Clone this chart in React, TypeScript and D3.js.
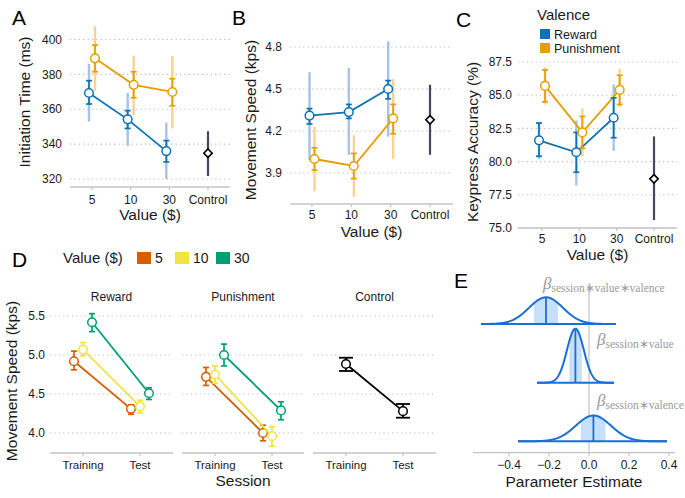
import React from "react";
import * as d3 from "d3";

// ---------- DATA ----------
const valueCats = ["5", "10", "30"];
const allCats = ["5", "10", "30", "Control"];

// Panel A: Initiation Time (ms)
const initRewardMean = [369.3, 354.2, 336.0];
const initRewardSeLo = [363.0, 349.0, 329.8];
const initRewardSeHi = [376.4, 359.2, 342.0];
const initRewardCiLo = [352.9, 339.0, 320.0];
const initRewardCiHi = [386.0, 369.3, 352.3];
const initPunishMean = [389.2, 374.0, 369.9];
const initPunishSeLo = [381.5, 366.6, 362.0];
const initPunishSeHi = [396.8, 381.5, 377.5];
const initPunishCiLo = [370.6, 356.7, 349.0];
const initPunishCiHi = [407.7, 390.7, 390.5];
const initControl = [334.8, 321.7, 347.4]; // mean, lo, hi
const initTicks = [320, 340, 360, 380, 400];

// Panel B: Movement Speed (kps)
const speedRewardMean = [4.31, 4.335, 4.5];
const speedRewardSeLo = [4.25, 4.29, 4.43];
const speedRewardSeHi = [4.36, 4.39, 4.56];
const speedRewardCiLo = [3.99, 4.03, 4.16];
const speedRewardCiHi = [4.62, 4.65, 4.84];
const speedPunishMean = [4.0, 3.95, 4.29];
const speedPunishSeLo = [3.92, 3.86, 4.18];
const speedPunishSeHi = [4.08, 4.04, 4.39];
const speedPunishCiLo = [3.77, 3.73, 4.0];
const speedPunishCiHi = [4.23, 4.17, 4.57];
const speedControl = [4.28, 4.03, 4.53];
const speedTicks = [3.9, 4.2, 4.5, 4.8];

// Panel C: Keypress Accuracy (%)
const accRewardMean = [81.6, 80.7, 83.3];
const accRewardSeLo = [80.4, 79.2, 81.8];
const accRewardSeHi = [82.9, 82.2, 84.8];
const accRewardCiLo = [80.2, 78.2, 80.8];
const accRewardCiHi = [83.0, 83.1, 85.8];
const accPunishMean = [85.7, 82.2, 85.4];
const accPunishSeLo = [84.5, 81.0, 84.3];
const accPunishSeHi = [86.9, 83.4, 86.5];
const accPunishCiLo = [84.3, 80.4, 84.1];
const accPunishCiHi = [87.1, 84.0, 87.0];
const accControl = [78.7, 75.6, 81.9];
const accTicks = [75, 77.5, 80, 82.5, 85, 87.5];

// Panel D: Movement speed by session
const sessions = ["Training", "Test"];
const dTicks = [4.0, 4.5, 5.0, 5.5];
const dRewardTrainMean = [4.92, 5.07, 5.42];
const dRewardTrainLo = [4.81, 4.99, 5.3];
const dRewardTrainHi = [5.05, 5.16, 5.53];
const dRewardTestMean = [4.31, 4.34, 4.51];
const dRewardTestLo = [4.24, 4.26, 4.43];
const dRewardTestHi = [4.36, 4.42, 4.58];
const dPunishTrainMean = [4.72, 4.75, 5.0];
const dPunishTrainLo = [4.61, 4.64, 4.86];
const dPunishTrainHi = [4.84, 4.86, 5.14];
const dPunishTestMean = [4.0, 3.96, 4.29];
const dPunishTestLo = [3.9, 3.83, 4.17];
const dPunishTestHi = [4.1, 4.08, 4.4];
const dControlMean = [4.885, 4.28];
const dControlLo = [4.795, 4.196];
const dControlHi = [4.965, 4.372];

// Panel E: posterior densities
const paramNames = ["session\u2217value\u2217valence", "session\u2217value", "session\u2217valence"];
const paramMean = [-0.215, -0.068, 0.022];
const paramSd = [0.085, 0.042, 0.088];
const paramLo50 = [-0.275, -0.098, -0.04];
const paramHi50 = [-0.155, -0.036, 0.083];
const paramMin = [-0.54, -0.26, -0.355];
const paramMax = [0.135, 0.125, 0.39];
const eTicks = [-0.4, -0.2, 0.0, 0.2, 0.4];

// ---------- STYLE ----------
const FONT = "'Liberation Sans', Arial, Helvetica, sans-serif";
const SERIF = "'Liberation Serif', 'Times New Roman', serif";
const REWARD = "#0b72b5";
const PUNISH = "#e69f00";
const REWARD_CI = "#a6c2e6";
const PUNISH_CI = "#f6d294";
const CTRL = "#4b4660";
const GRID = "#b8b8b8";
const AXIS = "#c4c4c4";
const TXT = "#1a1a1a";
const VAL_COLORS = ["#d55e00", "#f0e442", "#009e73"];
const E_BLUE = "#1a6fd4";
const E_FILL = "#c6e0fb";
const TITLE_SIZE = 15.5;

function VBar({ x, y1, y2, color, w = 1.6, cap = 0, opacity = 1 }) {
  return (
    <g stroke={color} strokeWidth={w} opacity={opacity}>
      <line x1={x} x2={x} y1={y1} y2={y2} />
      {cap > 0 && <line x1={x - cap} x2={x + cap} y1={y1} y2={y1} />}
      {cap > 0 && <line x1={x - cap} x2={x + cap} y1={y2} y2={y2} />}
    </g>
  );
}

function ValencePanel(p) {
  const y = d3.scaleLinear().domain(p.yDomain).range(p.yRange);
  const x = d3.scalePoint().domain(allCats).range(p.xRange);
  const fmt = d3.format(p.fmt);
  const series = [
    { mean: p.rMean, seLo: p.rSeLo, seHi: p.rSeHi, ciLo: p.rCiLo, ciHi: p.rCiHi, c: REWARD, ci: REWARD_CI, d: -p.dodge },
    { mean: p.pMean, seLo: p.pSeLo, seHi: p.pSeHi, ciLo: p.pCiLo, ciHi: p.pCiHi, c: PUNISH, ci: PUNISH_CI, d: p.dodge },
  ];
  const line = d3.line().x((d) => d[0]).y((d) => d[1]);
  const cx = x("Control");
  return (
    <g fontFamily={FONT}>
      {p.ticks.map((t) => (
        <g key={t}>
          <line x1={p.plotX0} x2={p.plotX1} y1={y(t)} y2={y(t)} stroke={GRID} strokeWidth={1.1} strokeDasharray="1.2,3.2" />
          <text x={p.labelRight} y={y(t)} dy="0.35em" textAnchor="end" fontSize={12} fill={TXT}>{fmt(t)}</text>
        </g>
      ))}
      <line x1={p.plotX0} x2={p.plotX1} y1={p.axisY} y2={p.axisY} stroke={AXIS} strokeWidth={1.3} />
      {allCats.map((c) => (
        <g key={c}>
          <line x1={x(c)} x2={x(c)} y1={p.axisY} y2={p.axisY + 3} stroke={AXIS} strokeWidth={1.2} />
          <text x={x(c)} y={p.tickBase} textAnchor="middle" fontSize={12} fill={TXT}>{c}</text>
        </g>
      ))}
      <text x={(p.plotX0 + p.plotX1) / 2} y={p.titleBase} textAnchor="middle" fontSize={TITLE_SIZE} fill={TXT}>Value ($)</text>
      <text transform={`translate(${p.yTitleX},${p.yTitleY}) rotate(-90)`} textAnchor="middle" fontSize={TITLE_SIZE} fill={TXT}>{p.yTitle}</text>
      {series.map((s, si) =>
        valueCats.map((c, i) => (
          <VBar key={si + c} x={x(c) + s.d} y1={y(s.ciLo[i])} y2={y(s.ciHi[i])} color={s.ci} w={2.4} />
        ))
      )}
      <VBar x={cx} y1={y(p.ctrl[1])} y2={y(p.ctrl[2])} color={CTRL} w={2.2} />
      {series.map((s, si) => (
        <path key={si} d={line(valueCats.map((c, i) => [x(c) + s.d, y(s.mean[i])]))} fill="none" stroke={s.c} strokeWidth={1.8} />
      ))}
      {series.map((s, si) =>
        valueCats.map((c, i) => (
          <VBar key={si + c} x={x(c) + s.d} y1={y(s.seLo[i])} y2={y(s.seHi[i])} color={s.c} w={1.7} cap={3} />
        ))
      )}
      {series.map((s, si) =>
        valueCats.map((c, i) => (
          <circle key={si + c} cx={x(c) + s.d} cy={y(s.mean[i])} r={4.3} fill="white" stroke={s.c} strokeWidth={1.5} />
        ))
      )}
      <path
        d={`M${cx},${y(p.ctrl[0]) - 4.2}L${cx + 4.2},${y(p.ctrl[0])}L${cx},${y(p.ctrl[0]) + 4.2}L${cx - 4.2},${y(p.ctrl[0])}Z`}
        fill="white"
        stroke="black"
        strokeWidth={1.6}
      />
    </g>
  );
}

function PanelD() {
  const y = d3.scaleLinear().domain([4.0, 5.5]).range([433, 316]);
  const axisY = 453;
  const facets = [
    { name: "Reward", x0: 50, x1: 173, tr: dRewardTrainMean, trLo: dRewardTrainLo, trHi: dRewardTrainHi, te: dRewardTestMean, teLo: dRewardTestLo, teHi: dRewardTestHi },
    { name: "Punishment", x0: 182, x1: 304, tr: dPunishTrainMean, trLo: dPunishTrainLo, trHi: dPunishTrainHi, te: dPunishTestMean, teLo: dPunishTestLo, teHi: dPunishTestHi },
    { name: "Control", x0: 313, x1: 436 },
  ];
  const dodge = [-9, 0, 9];
  const fmt = d3.format(".1f");
  return (
    <g fontFamily={FONT}>
      {dTicks.map((t) => (
        <text key={t} x={45} y={y(t)} dy="0.35em" textAnchor="end" fontSize={12} fill={TXT}>{fmt(t)}</text>
      ))}
      <text transform={`translate(17,381) rotate(-90)`} textAnchor="middle" fontSize={TITLE_SIZE} fill={TXT}>Movement Speed (kps)</text>
      <text x={243} y={486} textAnchor="middle" fontSize={TITLE_SIZE} fill={TXT}>Session</text>
      {facets.map((f) => {
        const x = d3.scalePoint().domain(sessions).range([f.x0 + 33, f.x0 + 90]);
        return (
          <g key={f.name}>
            <text x={(f.x0 + f.x1) / 2} y={301} textAnchor="middle" fontSize={12} fill={TXT}>{f.name}</text>
            {dTicks.map((t) => (
              <line key={t} x1={f.x0} x2={f.x1} y1={y(t)} y2={y(t)} stroke={GRID} strokeWidth={1.1} strokeDasharray="1.2,3.2" />
            ))}
            <line x1={f.x0} x2={f.x1} y1={axisY} y2={axisY} stroke={AXIS} strokeWidth={1.3} />
            {sessions.map((s) => (
              <g key={s}>
                <line x1={x(s)} x2={x(s)} y1={axisY} y2={axisY + 3} stroke={AXIS} strokeWidth={1.2} />
                <text x={x(s)} y={469} textAnchor="middle" fontSize={11.5} fill={TXT}>{s}</text>
              </g>
            ))}
            {f.tr &&
              valueCats.map((v, i) => {
                const c = VAL_COLORS[i];
                const xa = x("Training") + dodge[i];
                const xb = x("Test") + dodge[i];
                return (
                  <g key={v}>
                    <line x1={xa} y1={y(f.tr[i])} x2={xb} y2={y(f.te[i])} stroke={c} strokeWidth={1.8} />
                    <VBar x={xa} y1={y(f.trLo[i])} y2={y(f.trHi[i])} color={c} w={1.7} cap={3} />
                    <VBar x={xb} y1={y(f.teLo[i])} y2={y(f.teHi[i])} color={c} w={1.7} cap={3} />
                    <circle cx={xa} cy={y(f.tr[i])} r={4.3} fill="white" stroke={c} strokeWidth={1.5} />
                    <circle cx={xb} cy={y(f.te[i])} r={4.3} fill="white" stroke={c} strokeWidth={1.5} />
                  </g>
                );
              })}
            {!f.tr && (
              <g>
                <line x1={x("Training")} y1={y(dControlMean[0])} x2={x("Test")} y2={y(dControlMean[1])} stroke="black" strokeWidth={1.8} />
                {sessions.map((s, i) => (
                  <g key={s}>
                    <VBar x={x(s)} y1={y(dControlLo[i])} y2={y(dControlHi[i])} color="black" w={1.8} cap={7} />
                    <circle cx={x(s)} cy={y(dControlMean[i])} r={4.3} fill="white" stroke="black" strokeWidth={1.5} />
                  </g>
                ))}
              </g>
            )}
          </g>
        );
      })}
      <text x={63} y={263} fontSize={15} fill={TXT}>Value ($)</text>
      {valueCats.map((v, i) => {
        const lx = [137, 175, 216][i];
        return (
          <g key={v}>
            <rect x={lx} y={252} width={14} height={12} fill={VAL_COLORS[i]} />
            <text x={lx + 18} y={263} fontSize={14} fill={TXT}>{v}</text>
          </g>
        );
      })}
    </g>
  );
}

function PanelE() {
  const x = d3.scaleLinear().domain([-0.4, 0.4]).range([509, 669]);
  const baselines = [324, 382.7, 441.3];
  const pxPerDensity = 5.69;
  const axisY = 452.7;
  const labelPos = [
    [543, 289],
    [597, 345],
    [597, 406],
  ];
  const dens = (m, s, v) => Math.exp(-0.5 * ((v - m) / s) ** 2) / (s * Math.sqrt(2 * Math.PI));
  return (
    <g fontFamily={FONT}>
      <line x1={x(0)} x2={x(0)} y1={283} y2={axisY} stroke="#d0d0d0" strokeWidth={1.6} />
      {paramNames.map((n, k) => {
        const b = baselines[k];
        const m = paramMean[k];
        const s = paramSd[k];
        const xs = d3.range(0, 201).map((i) => paramMin[k] + ((paramMax[k] - paramMin[k]) * i) / 200);
        const xsShade = d3.range(0, 41).map((i) => paramLo50[k] + ((paramHi50[k] - paramLo50[k]) * i) / 40);
        const area = d3
          .area()
          .x((v) => x(v))
          .y0(b)
          .y1((v) => b - pxPerDensity * dens(m, s, v));
        const line = d3
          .line()
          .x((v) => x(v))
          .y((v) => b - pxPerDensity * dens(m, s, v));
        return (
          <g key={n}>
            <path d={area(xsShade)} fill={E_FILL} />
            <path d={line(xs)} fill="none" stroke={E_BLUE} strokeWidth={2} />
            <line x1={x(paramMin[k])} x2={x(paramMax[k])} y1={b} y2={b} stroke={E_BLUE} strokeWidth={2} />
            <line x1={x(m)} x2={x(m)} y1={b} y2={b - pxPerDensity * dens(m, s, m)} stroke={E_BLUE} strokeWidth={1.8} />
            <text x={labelPos[k][0]} y={labelPos[k][1]} fill="#9a9a9a" fontFamily={SERIF}>
              <tspan fontStyle="italic" fontSize={17}>β</tspan>
              <tspan fontSize={11.5} dy={3}>{n}</tspan>
            </text>
          </g>
        );
      })}
      <line x1={473} x2={675} y1={axisY} y2={axisY} stroke={AXIS} strokeWidth={1.3} />
      {eTicks.map((t) => (
        <g key={t}>
          <line x1={x(t)} x2={x(t)} y1={axisY} y2={axisY + 3} stroke={AXIS} strokeWidth={1.2} />
          <text x={x(t)} y={469} textAnchor="middle" fontSize={12} fill={TXT}>{d3.format(".1f")(t).replace("-", "\u2212")}</text>
        </g>
      ))}
      <text x={574} y={487} textAnchor="middle" fontSize={TITLE_SIZE} fill={TXT}>Parameter Estimate</text>
    </g>
  );
}

export default function App() {
  return (
    <svg width={685} height={498} style={{ position: "absolute", left: 0, top: 0, background: "white" }} fontFamily={FONT}>
      <rect width={685} height={498} fill="white" />
      <ValencePanel
        yDomain={[320, 400]} yRange={[179, 39.5]} xRange={[92, 208]} ticks={initTicks} fmt="d"
        plotX0={70} plotX1={230} axisY={187} labelRight={62} tickBase={204} titleBase={220}
        yTitle="Initiation Time (ms)" yTitleX={30} yTitleY={102} dodge={3}
        rMean={initRewardMean} rSeLo={initRewardSeLo} rSeHi={initRewardSeHi} rCiLo={initRewardCiLo} rCiHi={initRewardCiHi}
        pMean={initPunishMean} pSeLo={initPunishSeLo} pSeHi={initPunishSeHi} pCiLo={initPunishCiLo} pCiHi={initPunishCiHi}
        ctrl={initControl}
      />
      <ValencePanel
        yDomain={[3.9, 4.8]} yRange={[173, 47]} xRange={[312, 430]} ticks={speedTicks} fmt=".1f"
        plotX0={290} plotX1={453} axisY={204} labelRight={282} tickBase={219} titleBase={237}
        yTitle="Movement Speed (kps)" yTitleX={256} yTitleY={120} dodge={2.5}
        rMean={speedRewardMean} rSeLo={speedRewardSeLo} rSeHi={speedRewardSeHi} rCiLo={speedRewardCiLo} rCiHi={speedRewardCiHi}
        pMean={speedPunishMean} pSeLo={speedPunishSeLo} pSeHi={speedPunishSeHi} pCiLo={speedPunishCiLo} pCiHi={speedPunishCiHi}
        ctrl={speedControl}
      />
      <ValencePanel
        yDomain={[75, 87.5]} yRange={[228, 62]} xRange={[542, 654]} ticks={accTicks} fmt=".1f"
        plotX0={518} plotX1={677} axisY={228} labelRight={512} tickBase={243} titleBase={260}
        yTitle="Keypress Accuracy (%)" yTitleX={478} yTitleY={142} dodge={3}
        rMean={accRewardMean} rSeLo={accRewardSeLo} rSeHi={accRewardSeHi} rCiLo={accRewardCiLo} rCiHi={accRewardCiHi}
        pMean={accPunishMean} pSeLo={accPunishSeLo} pSeHi={accPunishSeHi} pCiLo={accPunishCiLo} pCiHi={accPunishCiHi}
        ctrl={accControl}
      />
      <g fontFamily={FONT}>
        <text x={537} y={20} fontSize={15} fill={TXT}>Valence</text>
        <rect x={540} y={29} width={10} height={10} fill={REWARD} />
        <text x={554} y={38.5} fontSize={12.5} fill={TXT}>Reward</text>
        <rect x={540} y={43} width={10} height={10} fill={PUNISH} />
        <text x={554} y={52.5} fontSize={12.5} fill={TXT}>Punishment</text>
      </g>
      <PanelD />
      <PanelE />
      <g fontFamily={FONT} fontSize={21} fill="black">
        <text x={12} y={25}>A</text>
        <text x={232} y={25}>B</text>
        <text x={456} y={27}>C</text>
        <text x={12} y={267}>D</text>
        <text x={454} y={288}>E</text>
      </g>
    </svg>
  );
}
